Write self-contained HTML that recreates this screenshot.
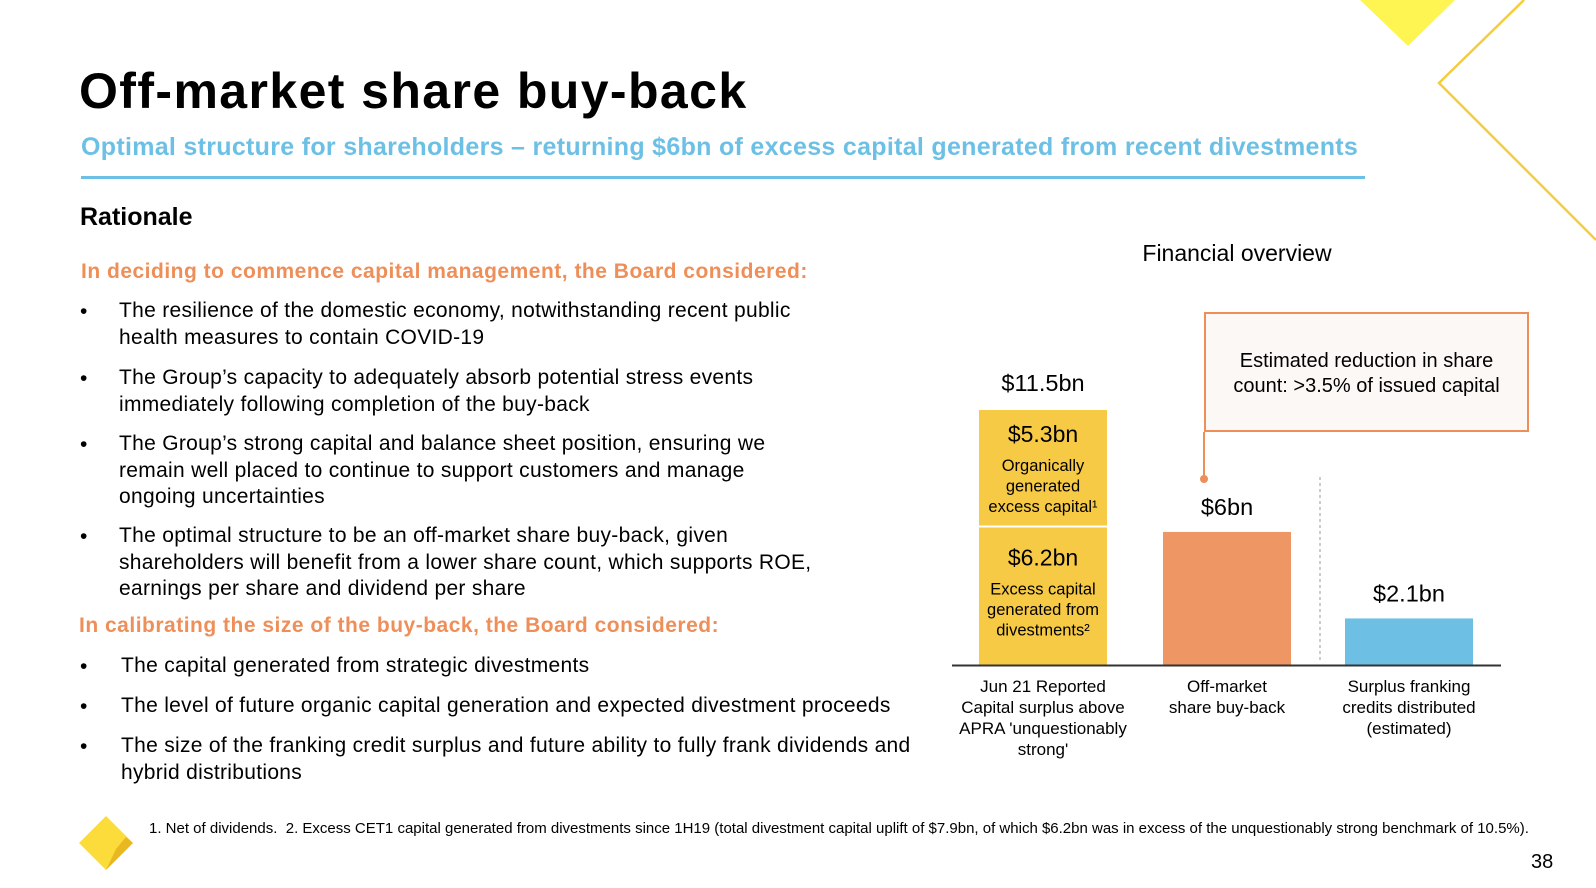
<!DOCTYPE html>
<html><head><meta charset="utf-8"><style>
body{margin:0;width:1596px;height:888px;background:#fff;font-family:"Liberation Sans",sans-serif;position:relative;overflow:hidden;color:#000}
.a{position:absolute}
.b{position:absolute;left:80px;font-size:21px;line-height:26.5px}
.t{position:absolute;left:119px;font-size:21px;line-height:26.5px;letter-spacing:0.3px;white-space:nowrap}
.o{position:absolute;color:#ee8f5a;font-weight:bold;font-size:21px;letter-spacing:0.5px}
</style></head><body>
<svg class="a" style="left:0;top:0" width="1596" height="888">
<polygon points="1360,0 1455,0 1408,46" fill="#fff552"/>
<polyline points="1524,0 1439,83 1596,240" fill="none" stroke="#f5cd3c" stroke-width="2.5"/>
<polygon points="106,816 133,843 106,870 79,843" fill="#fcdc3a"/>
<polygon points="133,843 126,837 116,849 106,870" fill="#e9b820"/>
</svg>
<div class="a" style="left:79px;top:62px;font-size:50px;font-weight:bold;letter-spacing:1.4px">Off-market share buy-back</div>
<div class="a" style="left:81px;top:133px;font-size:25px;font-weight:bold;color:#6cc0e6;letter-spacing:0.3px">Optimal structure for shareholders – returning $6bn of excess capital generated from recent divestments</div>
<div class="a" style="left:81px;top:176px;width:1284px;height:3px;background:#6cc0e6"></div>
<div class="a" style="left:80px;top:203px;font-size:25px;font-weight:bold">Rationale</div>
<div class="o" style="left:81px;top:260px">In deciding to commence capital management, the Board considered:</div>
<div class="b" style="top:299px">•</div><div class="t" style="top:298px">The resilience of the domestic economy, notwithstanding recent public<br>health measures to contain COVID-19</div>
<div class="b" style="top:366px">•</div><div class="t" style="top:365px">The Group’s capacity to adequately absorb potential stress events<br>immediately following completion of the buy-back</div>
<div class="b" style="top:432px">•</div><div class="t" style="top:431px">The Group’s strong capital and balance sheet position, ensuring we<br>remain well placed to continue to support customers and manage<br>ongoing uncertainties</div>
<div class="b" style="top:524px">•</div><div class="t" style="top:523px">The optimal structure to be an off-market share buy-back, given<br>shareholders will benefit from a lower share count, which supports ROE,<br>earnings per share and dividend per share</div>
<div class="o" style="left:79px;top:614px">In calibrating the size of the buy-back, the Board considered:</div>
<div class="b" style="top:654px">•</div><div class="t" style="left:121px;top:653px">The capital generated from strategic divestments</div>
<div class="b" style="top:694px">•</div><div class="t" style="left:121px;top:693px">The level of future organic capital generation and expected divestment proceeds</div>
<div class="b" style="top:734px">•</div><div class="t" style="left:121px;top:733px">The size of the franking credit surplus and future ability to fully frank dividends and<br>hybrid distributions</div>
<div class="a" style="left:1137px;top:240px;width:200px;text-align:center;font-size:23px;white-space:nowrap">Financial overview</div>
<div class="a" style="left:1204px;top:312px;width:325px;height:120px;border:2px solid #ee8f5a;background:#fcf8f5;font-size:20px;text-align:center;line-height:25px;box-sizing:border-box;padding-top:35px">Estimated reduction in share<br>count: &gt;3.5% of issued capital</div>
<div class="a" style="left:1203px;top:432px;width:2px;height:48px;background:#ee8f5a"></div>
<div class="a" style="left:1200px;top:475px;width:8px;height:8px;border-radius:50%;background:#ee8f5a"></div>
<svg id="chart" class="a" style="left:0;top:0" width="1596" height="888"></svg>
<div class="a" style="left:149px;top:820px;font-size:15px;white-space:nowrap">1. Net of dividends.&nbsp; 2. Excess CET1 capital generated from divestments since 1H19 (total divestment capital uplift of $7.9bn, of which $6.2bn was in excess of the unquestionably strong benchmark of 10.5%).</div>
<div class="a" style="left:1531px;top:851px;font-size:20px">38</div>
<script>
const categories=["Jun 21 Reported|Capital surplus above|APRA 'unquestionably|strong'","Off-market|share buy-back","Surplus franking|credits distributed|(estimated)"];
const stackBottom=[6.2,6.0,2.1];
const stackTop=[5.3,0,0];
const colors=["#f7ca45","#ee9664","#6dbfe4"];
const NS="http://www.w3.org/2000/svg";
const svg=document.getElementById('chart');
const base=665, pxPer=255/11.5;
const y=v=>base-v*pxPer;
const xs=[979,1163,1345], bw=128;
function el(t,a){const e=document.createElementNS(NS,t);for(const k in a)e.setAttribute(k,a[k]);svg.appendChild(e);return e;}
function txt(x,yy,s,size,anchor){const e=el('text',{x:x,y:yy,'font-size':size,'text-anchor':anchor||'middle','font-family':'Liberation Sans, sans-serif'});e.textContent=s;return e;}
categories.forEach((c,i)=>{
  const cx=xs[i]+bw/2;
  const r=el('rect',{x:xs[i],y:y(stackBottom[i]),width:bw,height:base-y(stackBottom[i]),fill:colors[i]});
  
  
  let top=stackBottom[i];
  if(stackTop[i]>0){
    const r2=el('rect',{x:xs[i],y:y(stackBottom[i]+stackTop[i]),width:bw,height:stackTop[i]*pxPer-2,fill:colors[i]});
    
    
    top+=stackTop[i];
    const y1=y(stackBottom[i]+stackTop[i]);
    txt(cx,y1+32,'$'+stackTop[i].toFixed(1)+'bn',23);
    ['Organically','generated','excess capital¹'].forEach((s,j)=>txt(cx,y1+61+j*20.5,s,16.5));
    const y0=y(stackBottom[i]);
    txt(cx,y0+38,'$'+stackBottom[i].toFixed(1)+'bn',23);
    ['Excess capital','generated from','divestments²'].forEach((s,j)=>txt(cx,y0+67+j*20.5,s,16.5));
    txt(cx,y(top)-19,'$'+top.toFixed(1)+'bn',23.5);
  } else {
    const lab=Number.isInteger(top)?'$'+top+'bn':'$'+top.toFixed(1)+'bn';
    txt(cx,y(top)-17,lab,23.5);
  }
  c.split('|').forEach((s,j)=>txt(cx,692+j*21,s,17));
});
el('line',{x1:1320,y1:477,x2:1320,y2:662,stroke:'#999','stroke-dasharray':'3,3','stroke-width':1});
const ax=el('line',{x1:952,y1:665.5,x2:1501,y2:665.5,stroke:'#333','stroke-width':2});


</script>
</body></html>
